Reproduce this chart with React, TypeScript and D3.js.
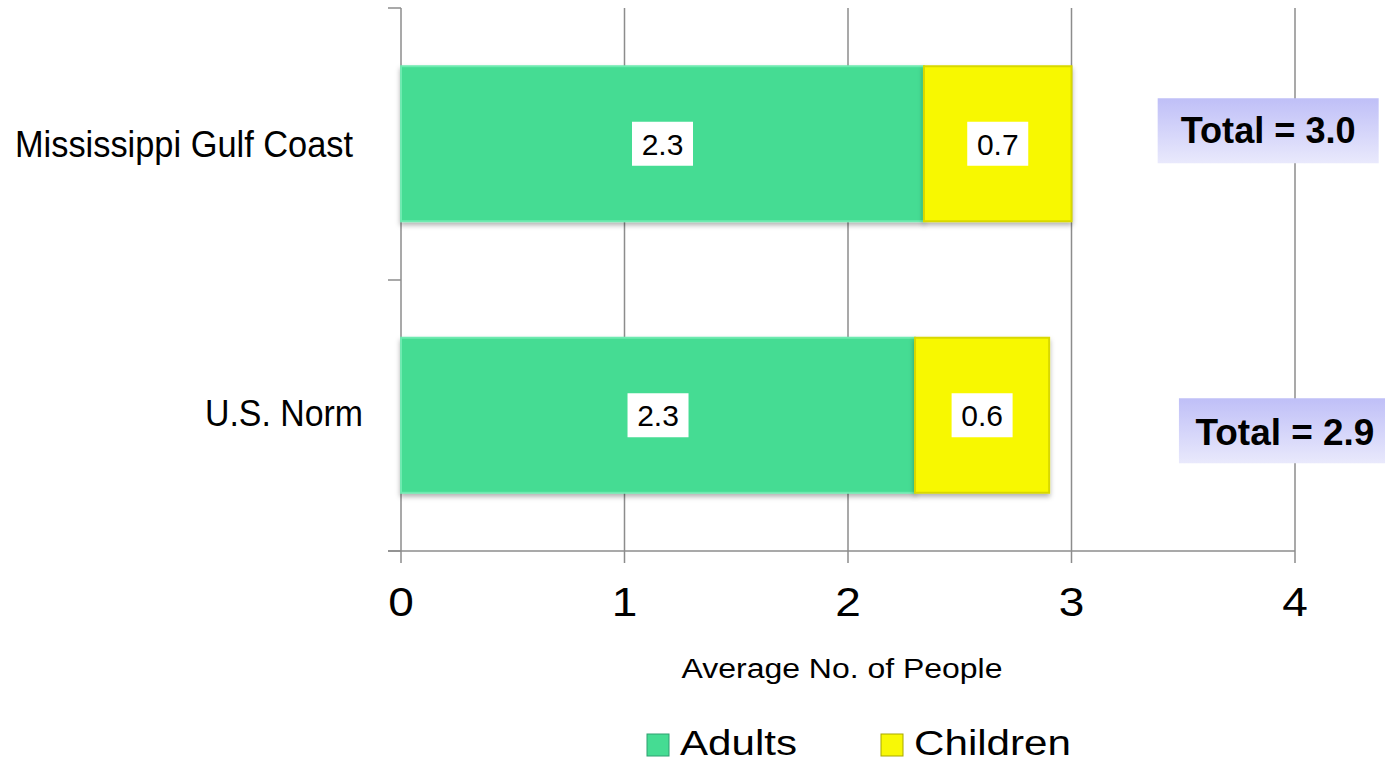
import React, { useEffect } from "react";
import * as d3 from "d3";

const categories = ["Mississippi Gulf Coast", "U.S. Norm"];
const adults = [2.34, 2.3];
const children = [0.66, 0.6];
const seriesNames = ["Adults", "Children"];
const xTicks = [0, 1, 2, 3, 4];
const totalLabels = ["Total = 3.0", "Total = 2.9"];
const axisTitle = "Average No. of People";

const W = 1385;
const H = 763;
const colors = ["#45dc93", "#f8f806"];
const strokes = ["#6eeab0", "#d8d800"];

export default function App() {
  useEffect(() => {
    document.body.style.margin = "0";
  }, []);

  const x = d3.scaleLinear().domain([0, 4]).range([401, 1295]);
  const y = d3
    .scaleBand<string>()
    .domain(categories)
    .range([8, 551])
    .paddingInner(0.429)
    .paddingOuter(0.2145);
  const bw = y.bandwidth();
  const series = [adults, children];
  const stacked = categories.map((c, i) => {
    let acc = 0;
    return series.map((s, k) => {
      const x0 = acc;
      acc += s[i];
      return { k, x0, x1: acc, v: s[i] };
    });
  });
  // annotation placement (relative to scales)
  const totalPos = [
    { xv: 3.88, dy: -13, w: 221, tl: 175, ty: 12.5 },
    { xv: 3.955, dy: 15.5, w: 212, tl: 179, ty: 14.5 },
  ];
  const catLayout = [
    { end: 353, len: 338, dy: 13 },
    { end: 363, len: 158, dy: 10.5 },
  ];
  const gridColor = "#8c8c8c";
  const sans = "'Liberation Sans', Arial, sans-serif";

  return (
    <svg width={W} height={H} style={{ position: "absolute", left: 0, top: 0, background: "#fff" }}>
      <defs>
        <filter id="sh" x="-5%" y="-10%" width="110%" height="130%">
          <feDropShadow dx="0" dy="3" stdDeviation="2.5" floodColor="#000" floodOpacity="0.3" />
        </filter>
        <linearGradient id="tg" x1="0" y1="0" x2="0" y2="1">
          <stop offset="0%" stopColor="#bfbff7" />
          <stop offset="100%" stopColor="#e9e9fc" />
        </linearGradient>
      </defs>
      {/* gridlines */}
      {xTicks.map((t) => (
        <line key={"g" + t} x1={x(t)} x2={x(t)} y1={8} y2={563} stroke={gridColor} strokeWidth={1.5} />
      ))}
      {/* y axis ticks */}
      {[8, 280, 551].map((yy, i) => (
        <line key={"yt" + i} x1={388} x2={401} y1={yy} y2={yy} stroke={gridColor} strokeWidth={1.5} />
      ))}
      <line x1={388} x2={x(4)} y1={551} y2={551} stroke={gridColor} strokeWidth={1.5} />
      {/* bars */}
      {categories.map((c, i) =>
        stacked[i].map((d) => (
          <rect
            key={c + d.k}
            x={x(d.x0)}
            y={y(c)!}
            width={x(d.x1) - x(d.x0)}
            height={bw}
            fill={colors[d.k]}
            stroke={strokes[d.k]}
            strokeWidth={2}
            filter="url(#sh)"
          />
        ))
      )}
      {/* data labels */}
      {categories.map((c, i) =>
        stacked[i].map((d) => {
          const cx = (x(d.x0) + x(d.x1)) / 2;
          const cy = y(c)! + bw / 2;
          return (
            <g key={"l" + c + d.k}>
              <rect x={cx - 30.5} y={cy - 22} width={61} height={44} fill="#fff" />
              <text x={cx} y={cy + 11} textAnchor="middle" fontFamily={sans} fontSize={30} fill="#000">
                {d.v.toFixed(1)}
              </text>
            </g>
          );
        })
      )}
      {/* totals */}
      {categories.map((c, i) => {
        const p = totalPos[i];
        const cx = x(p.xv);
        const cy = y(c)! + bw / 2 + p.dy;
        return (
          <g key={"t" + c}>
            <rect x={cx - p.w / 2} y={cy - 32.5} width={p.w} height={65} fill="url(#tg)" />
            <text
              x={cx}
              y={cy + p.ty}
              textAnchor="middle"
              fontFamily={sans}
              fontWeight="bold"
              fontSize={36}
              textLength={p.tl}
              lengthAdjust="spacingAndGlyphs"
              fill="#000"
            >
              {totalLabels[i]}
            </text>
          </g>
        );
      })}
      {/* category labels */}
      {categories.map((c, i) => (
        <text
          key={"c" + c}
          x={catLayout[i].end - catLayout[i].len}
          y={y(c)! + bw / 2 + catLayout[i].dy}
          fontFamily={sans}
          fontSize={37}
          textLength={catLayout[i].len}
          lengthAdjust="spacingAndGlyphs"
          fill="#000"
        >
          {c}
        </text>
      ))}
      {/* x tick labels */}
      {xTicks.map((t) => (
        <text
          key={"xt" + t}
          transform={`translate(${x(t)},616) scale(1.15,1)`}
          textAnchor="middle"
          fontFamily={sans}
          fontSize={40}
          fill="#000"
        >
          {t}
        </text>
      ))}
      <text
        x={(x(0) + x(4)) / 2 - 6}
        y={678}
        textAnchor="middle"
        fontFamily={sans}
        fontSize={27}
        textLength={321}
        lengthAdjust="spacingAndGlyphs"
        fill="#000"
      >
        {axisTitle}
      </text>
      {/* legend */}
      {seriesNames.map((s, k) => {
        const lx = k === 0 ? 647 : 881;
        const tl = k === 0 ? 117 : 157;
        return (
          <g key={"lg" + s}>
            <rect x={lx} y={734} width={22} height={22} fill={colors[k]} stroke={k === 0 ? "#2fa070" : "#a8a800"} strokeWidth={1} />
            <text
              x={lx + 33}
              y={755}
              fontFamily={sans}
              fontSize={35}
              textLength={tl}
              lengthAdjust="spacingAndGlyphs"
              fill="#000"
            >
              {s}
            </text>
          </g>
        );
      })}
    </svg>
  );
}
